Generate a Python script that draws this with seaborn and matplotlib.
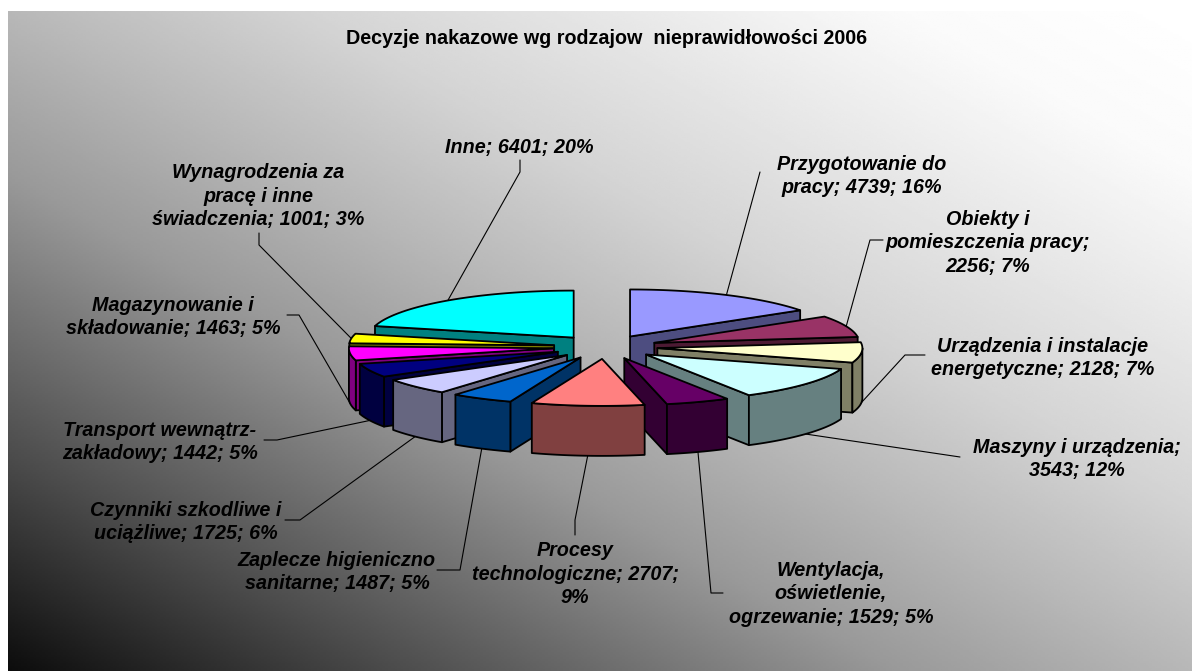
import matplotlib
matplotlib.use("Agg")
import matplotlib.pyplot as plt
import numpy as np
import seaborn as sns

names = [
    "Przygotowanie do\npracy; 4739; 16%",
    "Obiekty i\npomieszczenia pracy;\n2256; 7%",
    "Urządzenia i instalacje\nenergetyczne; 2128; 7%",
    "Maszyny i urządzenia;\n3543; 12%",
    "Wentylacja,\noświetlenie,\nogrzewanie; 1529; 5%",
    "Procesy\ntechnologiczne; 2707;\n9%",
    "Zaplecze higieniczno\nsanitarne; 1487; 5%",
    "Czynniki szkodliwe i\nuciążliwe; 1725; 6%",
    "Transport wewnątrz-\nzakładowy; 1442; 5%",
    "Magazynowanie i\nskładowanie; 1463; 5%",
    "Wynagrodzenia za\npracę i inne\nświadczenia; 1001; 3%",
    "Inne; 6401; 20%",
]
values = [4739, 2256, 2128, 3543, 1529, 2707, 1487, 1725, 1442, 1463, 1001, 6401]
top_colors = ["#9999FF", "#993366", "#FFFFCC", "#CCFFFF", "#660066", "#FF8080",
              "#0066CC", "#CCCCFF", "#000080", "#FF00FF", "#FFFF00", "#00FFFF"]
title = "Decyzje nakazowe wg rodzajow  nieprawidłowości 2006"

# label centre and where the leader line bends, in picture pixels
label_pos = [(862, 176), (988, 243), (1043, 358), (1077, 459), (831, 594), (575, 574),
             (337, 572), (186, 522), (160, 442), (173, 317), (258, 196), (519, 147)]
label_bend = [[(760, 172)], [(883, 240), (870, 240)], [(925, 355), (905, 355)], [(960, 457)],
              [(723, 593), (711, 593)], [(575, 535), (575, 520)], [(437, 570), (460, 570)],
              [(285, 520), (300, 520)], [(264, 440), (277, 440)], [(287, 315), (299, 315)],
              [(259, 233), (259, 245)], [(520, 160), (520, 172)]]

CX, CY = 605.6, 347
RX, RY = 205, 47
SQUASH = RY / RX
EXPLODE = 52
DEPTH = 50

sns.set_theme(style="white")
plt.rcParams["font.family"] = ["Liberation Sans", "DejaVu Sans"]

fig = plt.figure(figsize=(11.92, 6.71), dpi=100)
ax = fig.add_axes([0, 0, 1, 1])
ax.axis("off")

# grey diagonal background, black bottom left to white top right
gx, gy = np.meshgrid(np.linspace(0, 1, 400), np.linspace(0, 1, 300))
shade = np.interp((gx + gy) / 2, [0, 0.165, 0.375, 0.5, 0.625, 0.875, 1],
                  [0.05, 0.3, 0.6, 0.72, 0.83, 0.98, 1])
ax.imshow(shade, cmap="gray", vmin=0, vmax=1, extent=(8, 1192, 671, 11),
          origin="lower", aspect="auto", zorder=0)
ax.set_xlim(0, 1192)
ax.set_ylim(671, 0)


def rim(apex, deg):
    t = np.radians(deg)
    return np.column_stack([apex[0] + RX * np.sin(t), apex[1] - RY * np.cos(t)])


def face(pts, color):
    ax.fill(pts[:, 0], pts[:, 1], facecolor=color, edgecolor="black", lw=1.3,
            joinstyle="round", zorder=2)


edges = 360 * np.cumsum([0] + values) / sum(values)
palette = sns.color_palette(top_colors)
drop = np.array([0, DEPTH])

slices = []
for i in range(len(values)):
    mid = (edges[i] + edges[i + 1]) / 2
    slices.append((np.cos(np.radians(mid)), i, mid))

for _, i, mid in sorted(slices, reverse=True):
    start, end = edges[i], edges[i + 1]
    t = np.radians(mid)
    apex = (CX + EXPLODE * np.sin(t), CY - EXPLODE * SQUASH * np.cos(t))
    a = np.array(apex)
    top = palette[i]
    side = tuple(c * 0.5 for c in top)

    for deg in (start, end):
        s = np.sin(np.radians(deg))
        visible = s < -1e-6 if deg == start else s > 1e-6
        if visible:
            r = rim(apex, np.array([deg]))[0]
            face(np.array([a, r, r + drop, a + drop]), side)

    lo, hi = max(start, 90), min(end, 270)
    if lo < hi:
        arc = rim(apex, np.linspace(lo, hi, 40))
        face(np.vstack([arc, arc[::-1] + drop]), side)

    arc = rim(apex, np.linspace(start, end, 60))
    face(np.vstack([a, arc]), top)

# leader lines and labels
for i, mid in enumerate((edges[:-1] + edges[1:]) / 2):
    t = np.radians(mid)
    apex = (CX + EXPLODE * np.sin(t), CY - EXPLODE * SQUASH * np.cos(t))
    end_pt = rim(apex, np.array([mid]))[0]
    if np.cos(t) < 0:
        end_pt = end_pt + drop
    path = label_bend[i] + [tuple(end_pt)]
    ax.plot([p[0] for p in path], [p[1] for p in path], color="black", lw=0.8, zorder=1)
    ax.text(label_pos[i][0], label_pos[i][1], names[i], ha="center", va="center",
            fontsize=14.2, fontweight="bold", fontstyle="italic", linespacing=1.3,
            color="black", zorder=3)

ax.text(607, 39, title, ha="center", va="center", fontsize=14.2, fontweight="bold",
        color="black", zorder=3)

fig.savefig("out.png", dpi=100)
